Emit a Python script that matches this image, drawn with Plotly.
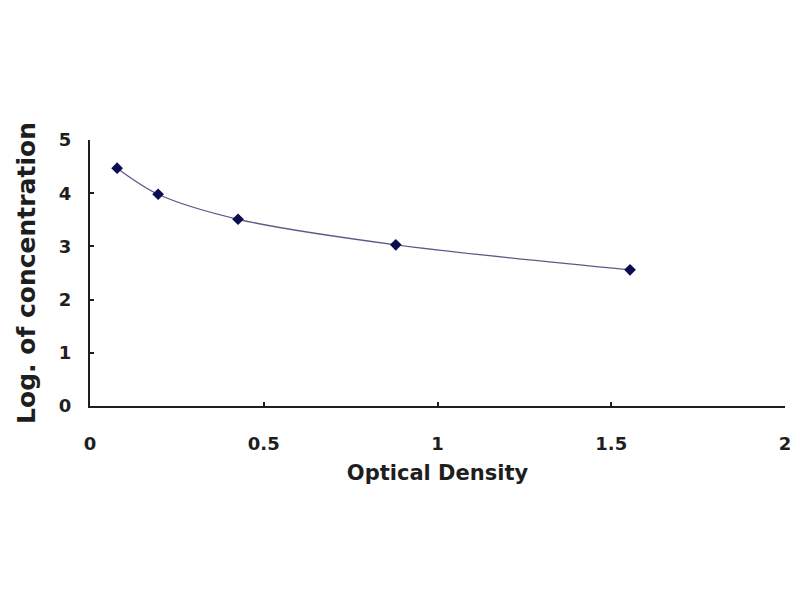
import plotly.graph_objects as go

optical_density = [0.078, 0.196, 0.426, 0.88, 1.554]
log_conc = [4.47, 3.98, 3.51, 3.03, 2.56]

x_ticks = [0, 0.5, 1, 1.5, 2]
x_tick_labels = ["0", "0.5", "1", "1.5", "2"]
y_ticks = [0, 1, 2, 3, 4, 5]

ink = "#1e1e1e"
tick_font = dict(family="DejaVu Sans", size=18, color=ink, weight="bold")

fig = go.Figure()
fig.add_trace(go.Scatter(
    x=optical_density, y=log_conc,
    mode="lines+markers",
    line=dict(color="#5a5a88", width=1.3, shape="spline", smoothing=0.9),
    marker=dict(symbol="diamond", size=9, color="#0c0c50"),
    showlegend=False,
    cliponaxis=False,
))

fig.update_xaxes(
    range=[0, 2], tickvals=x_ticks, ticktext=x_tick_labels,
    showgrid=False, zeroline=False, automargin=False,
    showline=True, linecolor=ink, linewidth=2,
    ticks="inside", ticklen=4, tickcolor=ink, tickwidth=1.5,
    tickfont=tick_font,
    ticklabelstandoff=20,
    title=dict(text="Optical Density", standoff=13,
               font=dict(family="DejaVu Sans", size=21, color=ink, weight="bold")),
)
fig.update_yaxes(
    range=[0, 5], tickvals=y_ticks,
    showgrid=False, zeroline=False, automargin=False,
    showline=True, linecolor=ink, linewidth=2,
    ticks="inside", ticklen=4, tickcolor=ink, tickwidth=1.5,
    tickfont=tick_font,
    ticklabelstandoff=13,
    title=dict(text="Log. of concentration", standoff=16,
               font=dict(family="DejaVu Sans", size=25, color=ink, weight="bold")),
)
# the page body adds an 8px offset, so the figure is 8px smaller
fig.update_layout(
    width=792, height=592,
    margin=dict(l=82, r=15, t=132, b=194),
    plot_bgcolor="white", paper_bgcolor="white",
)
fig.write_html("out.html")
